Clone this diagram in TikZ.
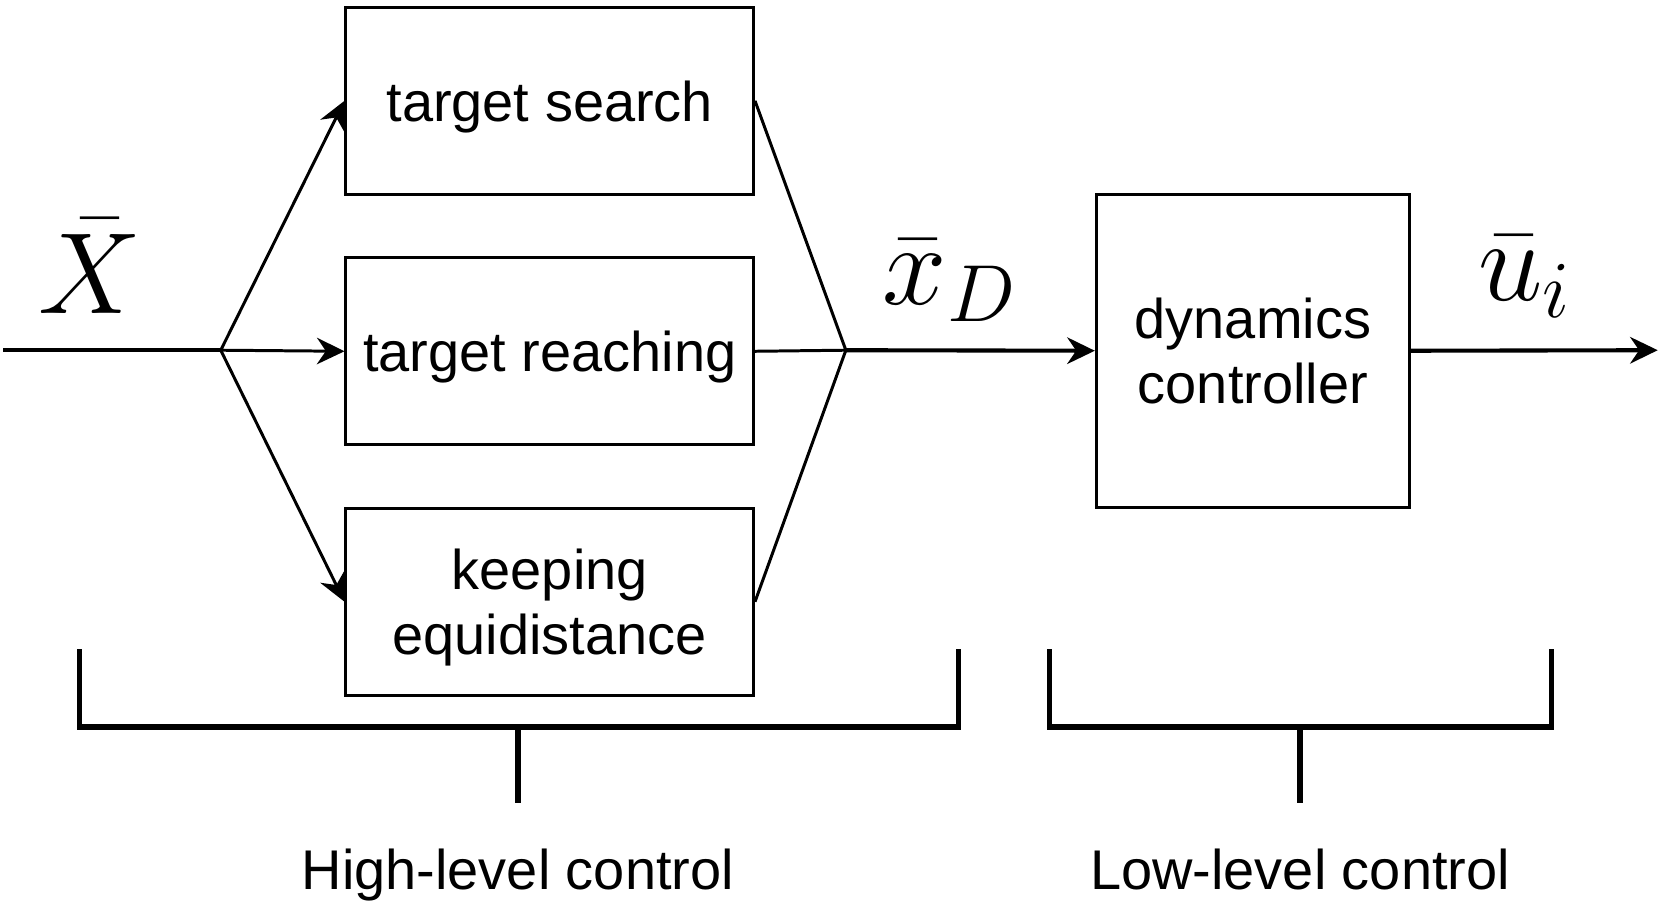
\RequirePackage{fix-cm}
\documentclass[tikz,border=0pt]{standalone}
\usepackage{amsmath}
\usepackage{fontspec}
\setmainfont{Liberation Sans}
\usepackage{tikz}
\usetikzlibrary{arrows.meta}

\begin{document}
\begin{tikzpicture}[
  blk/.style={draw, line width=0.8pt, minimum width=3.84cm, minimum height=1.76cm, align=center, inner sep=0pt, text depth=0pt, font=\fontsize{15}{17.6}\selectfont},
  sig/.style={anchor=base, font=\fontsize{31}{34}\selectfont},
  tag/.style={anchor=base, font=\fontsize{15}{17.6}\selectfont},
  thin/.style={line width=0.8pt},
  thick/.style={line width=1.1pt},
  brk/.style={line width=1.5pt},
  tip/.style={-{Stealth[length=2.6mm, width=2.5mm]}}
]
\useasboundingbox (0,0) rectangle (15.66,-8.5);
\node[blk] (search) at (5.18,-0.95) {target search};
\node[blk] (reach) at (5.18,-3.31) {target reaching};
\node[blk] (keep) at (5.18,-5.67) {keeping\\equidistance};
\node[blk, minimum width=2.95cm, minimum height=2.95cm] (dyn) at (11.805,-3.305) {dynamics\\controller};
\coordinate (src) at (0.03,-3.3);
\coordinate (fork) at (2.08,-3.3);
\coordinate (merge) at (7.97,-3.3);
\coordinate (sink) at (15.62,-3.3);
%labels
\node[sig] (X) at (0.85,-2.95) {$\bar{X}$};
\node[sig] (xD) at (8.95,-2.87) {$\bar{x}_D$};
\node[sig] (ui) at (14.37,-2.83) {$\bar{u}_i$};
%fork
\draw [thick] (src) -- (fork);
\draw [thin, tip] (fork) -- (search.west);
\draw [thin, tip] (fork) -- (reach.west);
\draw [thin, tip] (fork) -- (keep.west);
%merge
\draw [thin] (search.east) -- (merge);
\draw [thin] (reach.east) -- (merge);
\draw [thin] (keep.east) -- (merge);
\draw [thick, tip] (merge) -- (dyn.west);
\draw [thick, tip] (dyn.east) -- (sink);
%brackets
\draw [brk] (0.75,-6.12) -- (0.75,-6.85) -- (9.03,-6.85) -- (9.03,-6.12);
\draw [brk] (4.88,-6.85) -- (4.88,-7.57);
\node[tag] (high) at (4.88,-8.38) {High-level control};
\draw [brk] (9.89,-6.12) -- (9.89,-6.85) -- (14.62,-6.85) -- (14.62,-6.12);
\draw [brk] (12.25,-6.85) -- (12.25,-7.57);
\node[tag] (low) at (12.25,-8.38) {Low-level control};
\end{tikzpicture}
\end{document}
